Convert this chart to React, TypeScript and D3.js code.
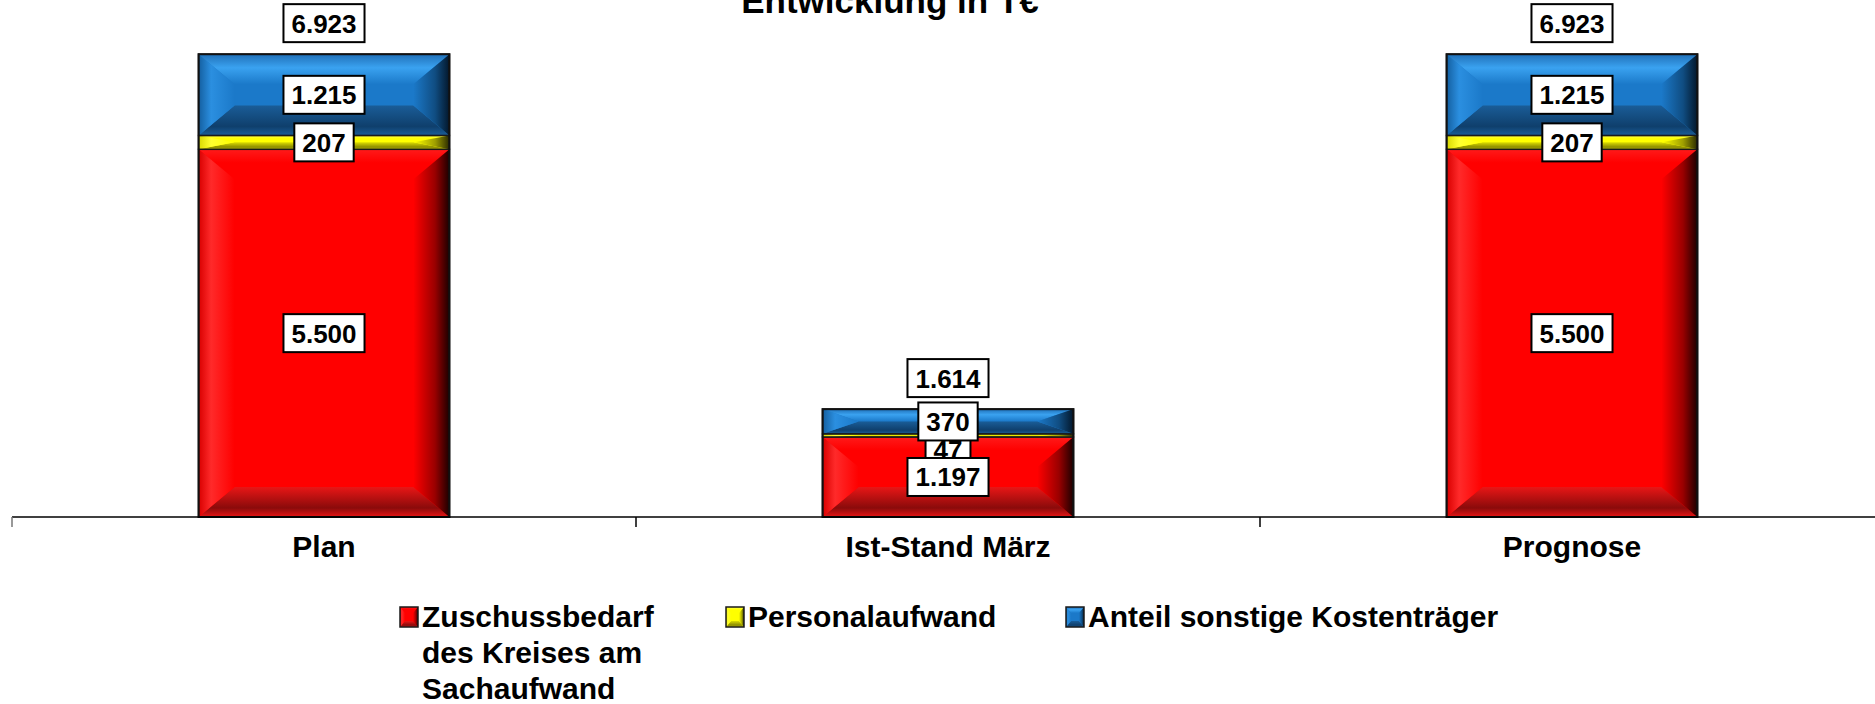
import * as d3 from "d3";

const categories = ["Plan", "Ist-Stand März", "Prognose"];
const zuschuss = [5500, 1197, 5500];
const personal = [207, 47, 207];
const sonstige = [1215, 370, 1215];
const totals = [6923, 1614, 6923];
const seriesNames = [
  ["Zuschussbedarf", "des Kreises am", "Sachaufwand"],
  ["Personalaufwand"],
  ["Anteil sonstige Kostenträger"],
];
const title = "Entwicklung in T€";

const W = 1875;
const H = 704;
const FONT = "'Liberation Sans', Arial, sans-serif";

// colours per series: base, top, bottom, left, right(dark edge)
const palette = [
  { id: "r", base: "#ff0000", top: ["#ff1a1a", "#ff0000"], bot: ["#e81616", "#8a0b0b"], left: ["#d80000", "#ff2a2a"], right: ["#ff0000", "#1c0000"] },
  { id: "y", base: "#ffff00", top: ["#ffff50", "#ffff00"], bot: ["#dcdc00", "#8a8a00"], left: ["#d8d800", "#ffff30"], right: ["#ffff00", "#2a2a00"] },
  { id: "b", base: "#1b79c9", top: ["#2070b8", "#3aa2f0"], bot: ["#1a5d98", "#0f3f6c"], left: ["#145fa0", "#2b8fe0"], right: ["#1b79c9", "#03172b"] },
];

function fmt(v: number) {
  return d3.format(",")(v).replace(/,/g, ".");
}

function Bevel({ x0, x1, y0, y1, p, b, bmax }: any) {
  const h = y1 - y0;
  const bv = Math.min(bmax, h / 2);
  const bh = Math.min(b, (x1 - x0) / 2);
  return (
    <g>
      <rect x={x0} y={y0} width={x1 - x0} height={h} fill={p.base} />
      <polygon points={`${x0},${y0} ${x1},${y0} ${x1 - bh},${y0 + bv} ${x0 + bh},${y0 + bv}`} fill={`url(#${p.id}-top)`} />
      <polygon points={`${x0},${y1} ${x1},${y1} ${x1 - bh},${y1 - bv} ${x0 + bh},${y1 - bv}`} fill={`url(#${p.id}-bot)`} />
      <polygon points={`${x0},${y0} ${x0 + bh},${y0 + bv} ${x0 + bh},${y1 - bv} ${x0},${y1}`} fill={`url(#${p.id}-left)`} />
      <polygon points={`${x1},${y0} ${x1 - bh},${y0 + bv} ${x1 - bh},${y1 - bv} ${x1},${y1}`} fill={`url(#${p.id}-right)`} />
      <rect x={x0} y={y0} width={x1 - x0} height={h} fill="none" stroke="#1a1a1a" strokeWidth={1.5} />
    </g>
  );
}

function LabelBox({ cx, cy, text }: any) {
  const fs = 26;
  const tw = text.split("").reduce((s: number, c: string) => s + (c === "." ? 0.278 : 0.556) * fs, 0);
  const w = tw + 16;
  const h = 38;
  return (
    <g>
      <rect x={cx - w / 2} y={cy - h / 2} width={w} height={h} fill="#fff" stroke="#000" strokeWidth={2} />
      <text x={cx} y={cy + 9.5} textAnchor="middle" fontSize={fs} fontWeight="bold" fontFamily={FONT}>
        {text}
      </text>
    </g>
  );
}

export default function App() {
  const x = d3.scaleBand().domain(categories).range([12, 1884]);
  const y = d3.scaleLinear().domain([0, 7000]).range([517, 49]);
  const barW = x.bandwidth() * 0.402;

  const rows = categories.map((c, i) => ({ cat: c, a: zuschuss[i], b: personal[i], c: sonstige[i] }));
  const stack = d3.stack<any>().keys(["a", "b", "c"])(rows);

  // label positions: centre of segment, yellow pushed between neighbours if it collides
  const labels: any[] = [];
  categories.forEach((cat, i) => {
    const cx = (x(cat) as number) + x.bandwidth() / 2;
    const centers = stack.map((s) => (y(s[i][0]) + y(s[i][1])) / 2);
    const vals = [zuschuss[i], personal[i], sonstige[i]];
    let yc = centers[1];
    const blueBottom = centers[2] + 19;
    const redTop = centers[0] - 19;
    if (yc - 19 < blueBottom || yc + 19 > redTop) yc = (blueBottom + redTop) / 2;
    labels.push({ order: 0, cx, cy: yc, text: fmt(vals[1]) });
    labels.push({ order: 1, cx, cy: centers[0], text: fmt(vals[0]) });
    labels.push({ order: 2, cx, cy: centers[2], text: fmt(vals[2]) });
    labels.push({ order: 3, cx, cy: y(totals[i]) - 31, text: fmt(totals[i]) });
  });
  labels.sort((a, b) => a.order - b.order);

  const legendX = [400, 726, 1066];

  return (
    <svg width={W} height={H} style={{ position: "absolute", left: 0, top: 0, background: "#fff" }}>
      <defs>
        {palette.map((p) => (
          <g key={p.id}>
            <linearGradient id={`${p.id}-top`} x1="0" y1="0" x2="0" y2="1">
              <stop offset="0" stopColor={p.top[0]} />
              <stop offset="0.45" stopColor={p.top[1]} />
              <stop offset="1" stopColor={p.base} />
            </linearGradient>
            <linearGradient id={`${p.id}-bot`} x1="0" y1="0" x2="0" y2="1">
              <stop offset="0" stopColor={p.bot[0]} />
              <stop offset="0.7" stopColor={p.bot[1]} />
              <stop offset="1" stopColor={p.bot[0]} />
            </linearGradient>
            <linearGradient id={`${p.id}-left`} x1="0" y1="0" x2="1" y2="0">
              <stop offset="0" stopColor={p.left[0]} />
              <stop offset="0.35" stopColor={p.left[1]} />
              <stop offset="1" stopColor={p.base} />
            </linearGradient>
            <linearGradient id={`${p.id}-right`} x1="0" y1="0" x2="1" y2="0">
              <stop offset="0" stopColor={p.right[0]} />
              <stop offset="0.6" stopColor={d3.interpolateRgb(p.right[0], p.right[1])(0.45)} />
              <stop offset="1" stopColor={p.right[1]} />
            </linearGradient>
          </g>
        ))}
      </defs>

      <text x={890} y={13} textAnchor="middle" fontSize={35} fontWeight="bold" fontFamily={FONT}>
        {title}
      </text>

      {stack.map((s, si) =>
        s.map((d, i) => {
          const cx = (x(categories[i]) as number) + x.bandwidth() / 2;
          return (
            <Bevel
              key={`${si}-${i}`}
              x0={cx - barW / 2}
              x1={cx + barW / 2}
              y0={y(d[1])}
              y1={y(d[0])}
              p={palette[si]}
              b={36}
              bmax={30}
            />
          );
        })
      )}
      {categories.map((c, i) => {
        const cx = (x(c) as number) + x.bandwidth() / 2;
        return (
          <rect key={c} x={cx - barW / 2} y={y(totals[i] - 1)} width={barW} height={y(0) - y(totals[i] - 1)} fill="none" stroke="#111" strokeWidth={2} />
        );
      })}

      <line x1={12} x2={W} y1={y(0)} y2={y(0)} stroke="#000" strokeWidth={1.5} />
      {[...categories.map((c) => x(c) as number), 1884].map((t, i) => (
        <line key={i} x1={t} x2={t} y1={y(0)} y2={y(0) + 10} stroke={i === 0 ? "#777" : "#000"} strokeWidth={1.5} />
      ))}
      {categories.map((c) => (
        <text key={c} x={(x(c) as number) + x.bandwidth() / 2} y={557} textAnchor="middle" fontSize={30} fontWeight="bold" fontFamily={FONT}>
          {c}
        </text>
      ))}

      {labels.map((l, i) => (
        <LabelBox key={i} cx={l.cx} cy={l.cy} text={l.text} />
      ))}

      {seriesNames.map((lines, si) => (
        <g key={si}>
          <Bevel x0={legendX[si]} x1={legendX[si] + 18} y0={607} y1={627} p={palette[si]} b={5} bmax={6} />
          <text x={legendX[si] + 22} y={627} fontSize={30} fontWeight="bold" fontFamily={FONT}>
            {lines.map((ln, li) => (
              <tspan key={li} x={legendX[si] + 22} dy={li === 0 ? 0 : 36}>
                {ln}
              </tspan>
            ))}
          </text>
        </g>
      ))}
    </svg>
  );
}
